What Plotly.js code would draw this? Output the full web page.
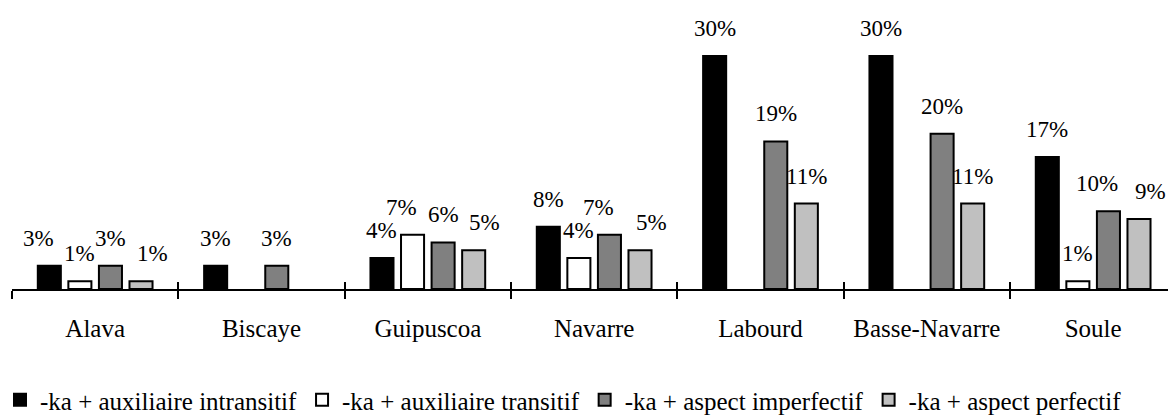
<!DOCTYPE html>
<html>
<head>
<meta charset="utf-8">
<script src="https://cdn.plot.ly/plotly-3.0.1.min.js"></script>
<style>html,body{margin:0;padding:0;background:#fff;}#chart{width:1168px;height:419px;}</style>
</head>
<body>
<div id="chart"></div>
<script>
// ---- data ----
const regions = ['Alava', 'Biscaye', 'Guipuscoa', 'Navarre', 'Labourd', 'Basse-Navarre', 'Soule'];
const seriesNames = [
  '-ka + auxiliaire intransitif',
  '-ka + auxiliaire transitif',
  '-ka + aspect imperfectif',
  '-ka + aspect perfectif'
];
const auxIntransitif = [3, 3, 4, 8, 30, 30, 17];
const auxTransitif   = [1, null, 7, 4, null, null, 1];
const aspImperfectif = [3, 3, 6, 7, 19, 20, 10];
const aspPerfectif   = [1, null, 5, 5, 11, 11, 9];

// ---- style ----
const seriesValues = [auxIntransitif, auxTransitif, aspImperfectif, aspPerfectif];
const fills = ['#000000', '#ffffff', '#808080', '#c0c0c0'];
const FONT = 'Liberation Serif, DejaVu Serif, serif';
const BARGAP = 0.265, BARGROUPGAP = 0.246;
const LABEL_SPREAD = 11;   // px nudge applied to labels of neighbouring bars of similar height
const CLOSE = 3;           // value difference under which neighbouring labels collide

const traces = seriesValues.map((vals, k) => ({
  type: 'bar',
  name: seriesNames[k],
  x: regions,
  y: vals,
  marker: { color: fills[k], line: { color: '#000', width: 2 } },
  hoverinfo: 'skip'
}));
// invisible helper trace for the overlaid tick axis
traces.push({ type: 'bar', x: regions, y: regions.map(() => null), xaxis: 'x2', showlegend: false, hoverinfo: 'skip' });

const nS = seriesValues.length;
const slot = (1 - BARGAP) / nS;
const annotations = [];
regions.forEach((r, i) => {
  const present = [];
  for (let k = 0; k < nS; k++) if (seriesValues[k][i] !== null) present.push(k);
  const shift = {};
  present.forEach(k => shift[k] = 0);
  for (let j = 0; j + 1 < present.length; j++) {
    const a = present[j], b = present[j + 1];
    if (b - a === 1 && Math.abs(seriesValues[a][i] - seriesValues[b][i]) < CLOSE) {
      shift[a] -= LABEL_SPREAD;
      shift[b] += LABEL_SPREAD;
    }
  }
  present.forEach(k => {
    const v = seriesValues[k][i];
    annotations.push({
      x: i + (k - (nS - 1) / 2) * slot,
      y: v, xref: 'x', yref: 'y',
      text: v + '%', showarrow: false,
      yanchor: 'bottom', xanchor: 'center', yshift: 13, xshift: shift[k],
      font: { family: FONT, size: 23, color: '#000' }
    });
  });
});

const layout = {
  width: 1168, height: 419,
  margin: { l: 12, r: 0, t: 33, b: 130 },
  paper_bgcolor: '#fff', plot_bgcolor: '#fff',
  font: { family: FONT, size: 25, color: '#000' },
  barmode: 'group', bargap: BARGAP, bargroupgap: BARGROUPGAP,
  showlegend: true,
  legend: {
    orientation: 'h', xref: 'container', yref: 'container',
    x: 0, xanchor: 'left', y: 19 / 419, yanchor: 'middle',
    font: { family: FONT, size: 25, color: '#000' },
    traceorder: 'normal', itemwidth: 30
  },
  xaxis: {
    type: 'category', range: [-0.5, 6.45],
    showline: true, linecolor: '#000', linewidth: 2,
    ticks: 'outside', tickson: 'boundaries', ticklen: 8, tickwidth: 2, tickcolor: '#000',
    showgrid: false, zeroline: false, fixedrange: true,
    ticklabelstandoff: 16,
    tickfont: { family: FONT, size: 25, color: '#000' }
  },
  xaxis2: {
    type: 'category', overlaying: 'x', matches: 'x', anchor: 'y',
    ticks: 'inside', tickson: 'boundaries', ticklen: 7, tickwidth: 2, tickcolor: '#000',
    showticklabels: false, showline: false, showgrid: false, zeroline: false
  },
  yaxis: {
    range: [0, 32.96], visible: false, showgrid: false, zeroline: false, fixedrange: true
  },
  annotations: annotations
};

Plotly.newPlot('chart', traces, layout, { staticPlot: true, displayModeBar: false });
</script>
</body>
</html>
